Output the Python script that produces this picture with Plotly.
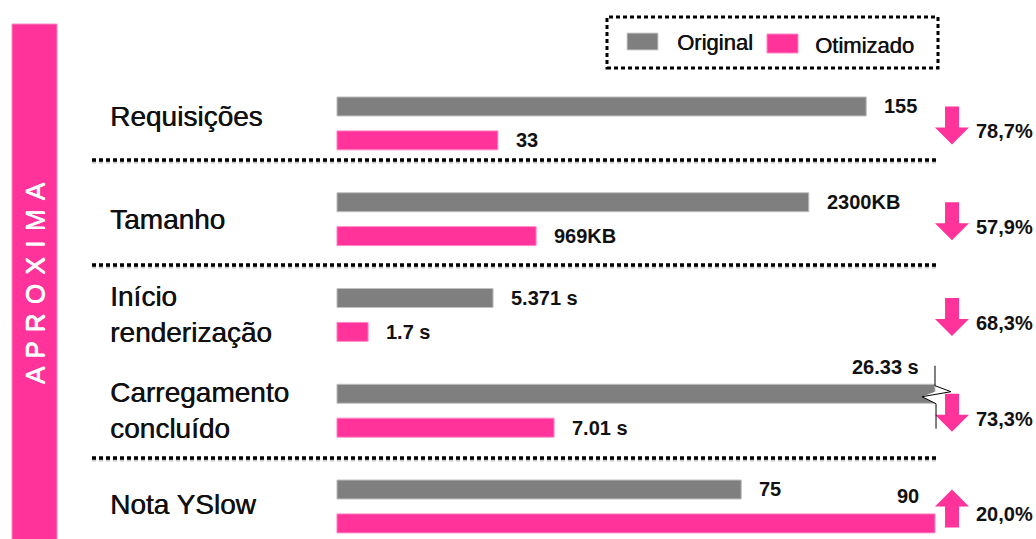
import plotly.graph_objects as go

# ---------------- data ----------------
categories = ["Requisições", "Tamanho", "Início<br>renderização",
              "Carregamento<br>concluído", "Nota YSlow"]
original_labels = ["155", "2300KB", "5.371 s", "26.33 s", "75"]
otimizado_labels = ["33", "969KB", "1.7 s", "7.01 s", "90"]
# bar lengths as drawn on the slide (percent of the full bar width)
original_len = [88.5, 78.9, 26.1, 100, 67.6]
otimizado_len = [26.9, 33.3, 5.2, 36.3, 100]
variation = ["78,7%", "57,9%", "68,3%", "73,3%", "20,0%"]
direction = ["down", "down", "down", "down", "up"]
series_names = ["Original", "Otimizado"]
label_shift = [7, 0, 0, 0, 2]

GRAY = "#7f7f7f"
PINK = "#ff3399"
W, H = 1036, 539
FONT = "Liberation Sans, Arial, sans-serif"

# axis ranges (x: 0 at bar start, 100 = full bar; y: category index, top-down)
X_RANGE = [-56.35, 116.89]
Y_RANGE = [4.34, -1.289]


def px_x(v):
    return (v - X_RANGE[0]) / (X_RANGE[1] - X_RANGE[0]) * W


def px_y(i):
    return (i - Y_RANGE[1]) / (Y_RANGE[0] - Y_RANGE[1]) * H


def paper(px, py):
    return px / W, 1 - py / H


fig = go.Figure()
fig.add_trace(go.Bar(y=categories, x=original_len, orientation="h", name=series_names[0],
                     marker=dict(color=GRAY, line=dict(color="#c0c0c0", width=1)),
                     showlegend=False, hoverinfo="skip"))
fig.add_trace(go.Bar(y=categories, x=otimizado_len, orientation="h", name=series_names[1],
                     marker=dict(color=PINK, line=dict(color="#ff88c4", width=1)),
                     showlegend=False, hoverinfo="skip"))

shapes = []
annotations = []
SHADOW = "0.5px 0 0 #111111"

# value labels
for i, cat in enumerate(categories):
    for lens, labs, dy in ((original_len, original_labels, 17), (otimizado_len, otimizado_labels, -17)):
        v = lens[i]
        if v >= 100:
            annotations.append(dict(x=v, y=i, xref="x", yref="y", text=labs[i], showarrow=False,
                                    xanchor="right", yanchor="middle", xshift=-14, yshift=dy + 27,
                                    font=dict(family=FONT, size=20, color="#111111", weight="bold")))
        else:
            annotations.append(dict(x=v, y=i, xref="x", yref="y", text=labs[i], showarrow=False,
                                    xanchor="left", yanchor="middle", xshift=16, yshift=dy,
                                    font=dict(family=FONT, size=20, color="#111111", weight="bold")))
    # category label
    annotations.append(dict(x=paper(108, 0)[0], y=i, xref="paper", yref="y", text=cat,
                            showarrow=False, xanchor="left", yanchor="middle", align="left",
                            yshift=label_shift[i],
                            font=dict(family=FONT, size=28, color="#111111", shadow=SHADOW)))
    # arrow
    cy = px_y(i) + 2
    if direction[i] == "down":
        pts = [(945, cy - 19), (959, cy - 19), (959, cy + 2), (969, cy + 2), (952, cy + 19),
               (935, cy + 2), (945, cy + 2)]
    else:
        pts = [(945, cy + 19), (959, cy + 19), (959, cy - 2), (969, cy - 2), (952, cy - 19),
               (935, cy - 2), (945, cy - 2)]
    path = "M" + " L".join("%.4f,%.4f" % paper(x, y) for x, y in pts) + " Z"
    shapes.append(dict(type="path", xref="paper", yref="paper", path=path,
                       fillcolor=PINK, line=dict(width=0)))
    tx, ty = paper(974, cy + 6)
    annotations.append(dict(x=tx, y=ty, xref="paper", yref="paper", text=variation[i],
                            showarrow=False, xanchor="left", yanchor="middle",
                            font=dict(family=FONT, size=20, color="#111111", weight="bold")))

# break mark on the truncated bar
bx = px_x(100)
bcy = px_y(3) - 17
cut = [(bx, bcy - 2), (bx - 13, bcy + 3), (bx + 1, bcy + 10), (bx + 1, bcy - 2)]
shapes.append(dict(type="path", xref="paper", yref="paper",
                   path="M" + " L".join("%.4f,%.4f" % paper(x, y) for x, y in cut) + " Z",
                   fillcolor="white", line=dict(width=0)))
zig = [(bx, bcy - 28), (bx, bcy - 8), (bx + 16, bcy - 2), (bx - 13, bcy + 3), (bx + 1, bcy + 10),
       (bx + 1, bcy + 35)]
shapes.append(dict(type="path", xref="paper", yref="paper",
                   path="M" + " L".join("%.4f,%.4f" % paper(x, y) for x, y in zig),
                   line=dict(color="black", width=1)))

# dotted separators (with soft shadow)
for py in (160, 265, 458):
    x0, y0 = paper(92, py + 2)
    x1, _ = paper(937, py)
    shapes.append(dict(type="line", xref="paper", yref="paper", x0=x0, x1=x1, y0=y0, y1=y0,
                       line=dict(color="#c8c8c8", width=3, dash="4px,3px")))
    x0, y0 = paper(92, py)
    shapes.append(dict(type="line", xref="paper", yref="paper", x0=x0, x1=x1, y0=y0, y1=y0,
                       line=dict(color="black", width=3.5, dash="4px,3px")))

# left band
bx0, by0 = paper(12, 24)
bx1, by1 = paper(57, 545)
shapes.append(dict(type="rect", xref="paper", yref="paper", x0=bx0, x1=bx1, y0=by1, y1=by0,
                   fillcolor=PINK, line=dict(color="#ff88c4", width=1)))
ax, ay = paper(35, 283)
annotations.append(dict(x=ax, y=ay, xref="paper", yref="paper",
                        text=" \u200a".join("APROXIMA"),
                        textangle=-90, showarrow=False, xanchor="center", yanchor="middle",
                        font=dict(family=FONT, size=26, color="white",
                                  shadow="0.6px 0 0 #ffffff, 0 0.6px 0 #ffffff")))

# legend (custom, drawn like the slide)
lx0, ly0 = paper(607, 17)
lx1, ly1 = paper(938, 68)
shapes.append(dict(type="rect", xref="paper", yref="paper", x0=lx0, x1=lx1, y0=ly1, y1=ly0,
                   line=dict(color="black", width=3, dash="4px,3px")))
for (sx0, sy0, sx1, sy1, col, tx, tyc, name) in (
        (627, 33, 658, 50, GRAY, 675, 42, series_names[0]),
        (767, 34, 798, 53, PINK, 813, 45, series_names[1])):
    a, b = paper(sx0, sy0)
    c, d = paper(sx1, sy1)
    shapes.append(dict(type="rect", xref="paper", yref="paper", x0=a, x1=c, y0=d, y1=b,
                       fillcolor=col, line=dict(color="#d0d0d0" if col == GRAY else "#ff88c4", width=1)))
    px_, py_ = paper(tx, tyc)
    annotations.append(dict(x=px_, y=py_, xref="paper", yref="paper", text=name, showarrow=False,
                            xanchor="left", yanchor="middle",
                            font=dict(family=FONT, size=22, color="#111111", shadow=SHADOW)))

fig.update_layout(
    width=W, height=H, autosize=False,
    margin=dict(l=0, r=0, t=0, b=0, pad=0),
    paper_bgcolor="white", plot_bgcolor="white",
    barmode="group", bargap=0.292, bargroupgap=0.44,
    xaxis=dict(range=X_RANGE, visible=False, showgrid=False, zeroline=False, fixedrange=True),
    yaxis=dict(range=Y_RANGE, visible=False, showgrid=False, zeroline=False, fixedrange=True,
               type="category", categoryorder="array", categoryarray=categories),
    shapes=shapes, annotations=annotations,
    showlegend=False,
)

fig.write_html("out.html", config={"displayModeBar": False},
               post_script="document.body.style.margin='0';document.body.style.overflow='hidden';")
